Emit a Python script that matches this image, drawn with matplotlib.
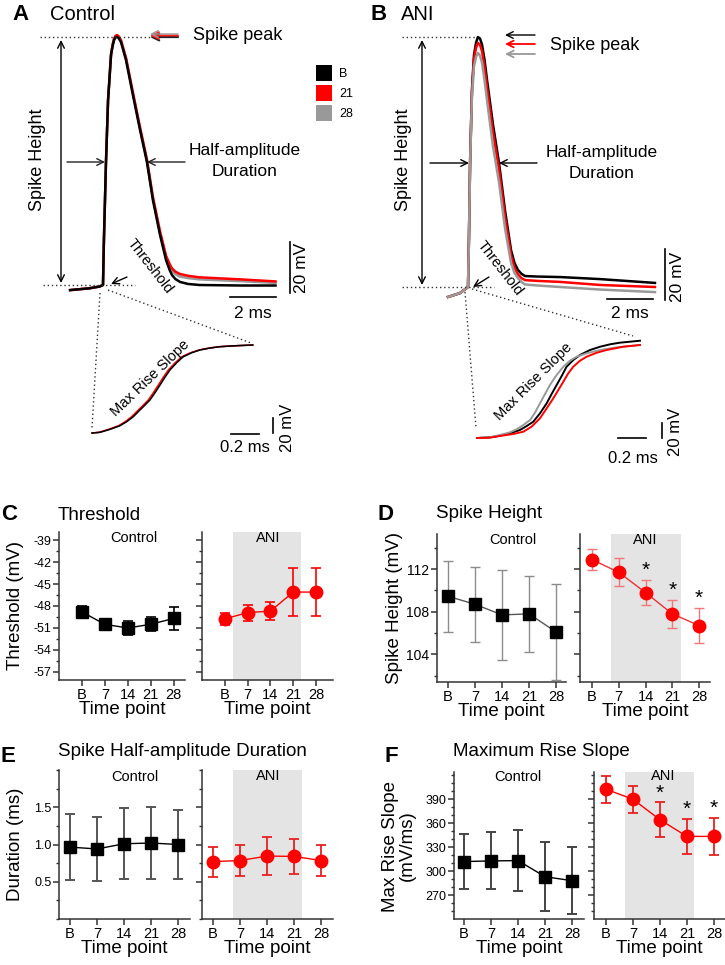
import matplotlib
matplotlib.use('Agg')
import matplotlib.pyplot as plt
from matplotlib.patches import Rectangle
from matplotlib.ticker import MultipleLocator, FixedLocator, FormatStrFormatter

plt.rcParams['font.family'] = ['Liberation Sans', 'DejaVu Sans']
plt.rcParams['axes.unicode_minus'] = False

# ------------------------------------------------------------------ data
time_points = ['B', '7', '14', '21', '28']
trace_labels = ['B', '21', '28']
trace_colors = ['#000000', '#ff0000', '#999999']

# C: threshold (mV)
thr_ctrl = [-48.8, -50.5, -51.0, -50.5, -49.7]
thr_ctrl_err = [0.8, 0.75, 0.9, 0.95, 1.6]
thr_ani = [-49.75, -48.9, -48.7, -46.1, -46.1]
thr_ani_err = [0.85, 1.1, 1.25, 3.25, 3.25]

# D: spike height (mV)
hgt_ctrl = [109.45, 108.7, 107.7, 107.8, 106.1]
hgt_ctrl_err = [3.35, 3.5, 4.2, 3.6, 4.5]
hgt_ani = [112.9, 111.7, 109.8, 107.8, 106.7]
hgt_ani_err = [1.0, 1.3, 1.15, 1.3, 1.65]
hgt_stars = [False, False, True, True, True]

# E: half-amplitude duration (ms)
dur_ctrl = [0.965, 0.94, 1.01, 1.02, 1.0]
dur_ctrl_err = [0.445, 0.435, 0.475, 0.48, 0.465]
dur_ani = [0.77, 0.785, 0.845, 0.84, 0.785]
dur_ani_err = [0.2, 0.21, 0.26, 0.24, 0.21]

# F: max rise slope (mV/ms)
mrs_ctrl = [312.2, 313.0, 313.4, 293.3, 288.3]
mrs_ctrl_err = [34.0, 35.5, 38.5, 43.0, 41.5]
mrs_ani = [402.6, 390.0, 364.5, 343.6, 343.6]
mrs_ani_err = [17.0, 17.0, 21.5, 21.5, 23.0]
mrs_stars = [False, False, True, True, True]

# A / B: example spikes (ms from threshold, mV above threshold)
ctrl_t = [-1.43, -0.6, -0.15, 0, 0.04, 0.13, 0.22, 0.35, 0.42, 0.48, 0.55, 0.61, 0.68,
          0.78, 1.0, 1.3, 1.61, 1.91, 2.17, 2.48, 2.74, 2.9, 3.0, 3.15, 3.35, 3.7,
          4.2, 6.0, 7.5]
ctrl_v_B = [-2.0, -1.3, -0.6, 0, 17.6, 48.2, 72.5, 90.2, 93.8, 96.0, 97.1, 97.3, 96.8,
            95.3, 88.2, 74.5, 60.8, 48.2, 33.3, 19.6, 9.8, 5.8, 3.9, 2.3, 1.2, 0.4,
            0.0, -0.2, -0.2]
ctrl_v_21 = [-2.0, -1.3, -0.6, 0, 17.6, 48.2, 72.5, 90.6, 94.3, 96.6, 97.7, 98.0, 97.5,
             96.0, 89.0, 75.5, 61.8, 49.2, 34.5, 21.0, 11.5, 8.2, 6.5, 5.2, 4.3, 3.6,
             3.0, 2.2, 1.4]
ctrl_v_28 = [-2.0, -1.3, -0.6, 0, 17.6, 48.2, 72.5, 90.6, 94.3, 96.6, 97.7, 98.0, 97.5,
             96.0, 89.0, 75.3, 61.5, 48.9, 34.0, 20.5, 10.8, 7.2, 5.5, 4.2, 3.3, 2.7,
             2.2, 1.5, 0.8]

ani_t = [-0.87, -0.35, 0, 0.04, 0.09, 0.17, 0.26, 0.35, 0.43, 0.52, 0.61, 0.72, 0.83,
         1.09, 1.35, 1.61, 1.87, 2.02, 2.17, 2.32, 2.48, 3.0, 4.0, 5.74, 8.13]
ani_v_B = [-3.9, -2.4, 0, 18.4, 48.6, 77, 91, 95.8, 98, 97.5, 95, 89, 81,
           63.5, 48.6, 30, 14.5, 9.5, 6.7, 5.2, 4.3, 4.1, 3.9, 3.1, 1.6]
ani_v_21 = [-3.9, -2.4, 0, 18.4, 48.6, 76, 89.5, 93.8, 95.7, 95.0, 92.5, 86, 78,
            60.5, 46, 27.5, 12.5, 7.6, 5.0, 3.5, 2.7, 2.4, 2.0, 0.8, 0.0]
ani_v_28 = [-3.9, -2.4, 0, 18.0, 47.5, 74, 86.5, 90.2, 91.8, 90.8, 88, 81, 73,
            55, 41, 23, 9.5, 5.5, 3.5, 2.0, 1.0, 0.6, 0.0, -1.0, -2.0]

# insets: rising phase (ms, mV)
ins_ctrl_v = [0, 0.9, 4.9, 9.7, 15.1, 21.7, 30.7, 37.3, 44, 53.7, 64, 74.3, 84, 93.7,
              101.7, 107, 110.7, 113.3, 115.1, 116.4, 117.3]
ins_ctrl_t_B = [0, 0.057, 0.129, 0.2, 0.248, 0.295, 0.343, 0.379, 0.414, 0.45, 0.486,
                0.521, 0.557, 0.605, 0.652, 0.712, 0.771, 0.843, 0.914, 1.033, 1.148]
ins_ctrl_t_21 = [0, 0.05, 0.12, 0.19, 0.237, 0.283, 0.331, 0.367, 0.402, 0.438, 0.474,
                 0.509, 0.545, 0.594, 0.642, 0.704, 0.765, 0.839, 0.911, 1.031, 1.148]
ins_ctrl_t_28 = [0, 0.054, 0.125, 0.195, 0.243, 0.289, 0.337, 0.373, 0.408, 0.444, 0.48,
                 0.515, 0.551, 0.6, 0.647, 0.708, 0.768, 0.841, 0.912, 1.032, 1.148]

ins_ani_t_B = [0, 0.093, 0.164, 0.236, 0.307, 0.355, 0.402, 0.45, 0.498, 0.533, 0.569,
               0.605, 0.64, 0.688, 0.736, 0.807, 0.879, 0.95, 1.021, 1.093, 1.164]
ins_ani_v_B = [0, 0.9, 3.1, 6.3, 10.7, 16, 21.7, 32.9, 46.3, 58.7, 70.7, 82.7, 95.1,
               104, 110.7, 117.3, 121.7, 124.9, 127.1, 128.4, 129.7]
ins_ani_t_21 = [0, 0.093, 0.164, 0.259, 0.331, 0.39, 0.45, 0.498, 0.545, 0.581, 0.617,
                0.652, 0.688, 0.736, 0.783, 0.855, 0.926, 1.045, 1.164]
ins_ani_v_21 = [0, 0.4, 2.7, 5.3, 8.4, 15.1, 26.3, 39.6, 52.9, 64, 75.1, 86.3, 95.1,
                103.1, 108.4, 113.7, 117.3, 121.7, 124]
ins_ani_t_28 = [0, 0.093, 0.164, 0.236, 0.283, 0.331, 0.379, 0.414, 0.45, 0.486, 0.521,
                0.569, 0.617, 0.664, 0.712, 0.783, 0.879, 0.998, 1.164]
ins_ani_v_28 = [0, 0.9, 4, 7.6, 11.6, 17.3, 24, 33.7, 46.3, 58.7, 70.7, 84, 95.1,
                103.1, 108.4, 112.9, 117.3, 120.9, 124]

# ------------------------------------------------------------------ figure
W, H = 725, 965
fig = plt.figure(figsize=(W / 100, H / 100), dpi=100)
AX = '#333333'


def px_axes(l, t, r, b):
    return fig.add_axes([l / W, 1 - b / H, (r - l) / W, (b - t) / H])


def ftext(x, y, s, **kw):
    kw.setdefault('ha', 'left')
    kw.setdefault('va', 'center')
    return fig.text(x / W, 1 - y / H, s, **kw)


def trace_axes(l, t, r, b, x0, y0, sx, sy):
    """axes whose data origin sits at pixel (x0, y0) with sx px/ms, sy px/mV"""
    ax = px_axes(l, t, r, b)
    ax.set_xlim((l - x0) / sx, (r - x0) / sx)
    ax.set_ylim((y0 - b) / sy, (y0 - t) / sy)
    ax.axis('off')
    return ax


# ---- A: control trace
axA = trace_axes(60, 20, 310, 300, 103, 285, 23.0, 2.55)
for v, c in [(ctrl_v_28, trace_colors[2]), (ctrl_v_21, trace_colors[1]), (ctrl_v_B, trace_colors[0])]:
    axA.plot(ctrl_t, v, color=c, lw=1.8, solid_joinstyle='round')
axA.plot([5.52, 7.52], [-4.7, -4.7], color='k', lw=1.2)
axA.plot([8.13, 8.13], [-3.1, 16.9], color='k', lw=1.2)

# ---- B: ANI trace
axB = trace_axes(440, 20, 690, 305, 468, 287, 23.0, 2.55)
for v, c in [(ani_v_B, trace_colors[0]), (ani_v_21, trace_colors[1]), (ani_v_28, trace_colors[2])]:
    axB.plot(ani_t, v, color=c, lw=1.8, solid_joinstyle='round')
axB.plot([6.04, 8.04], [-4.7, -4.7], color='k', lw=1.2)
axB.plot([8.56, 8.56], [-5.1, 14.9], color='k', lw=1.2)

# ---- insets
axIA = trace_axes(85, 335, 285, 445, 92, 433, 140.0, 0.75)
for t, c in [(ins_ctrl_t_28, trace_colors[2]), (ins_ctrl_t_21, trace_colors[1]), (ins_ctrl_t_B, trace_colors[0])]:
    axIA.plot(t, ins_ctrl_v, color=c, lw=1.1, solid_joinstyle='round')
axIA.plot([0.993, 1.193], [-1.3, -1.3], color='k', lw=1.2)
axIA.plot([1.293, 1.293], [0, 20], color='k', lw=1.2)

axIB = trace_axes(470, 330, 680, 450, 477, 438, 140.0, 0.75)
for t, v, c in [(ins_ani_t_B, ins_ani_v_B, trace_colors[0]), (ins_ani_t_28, ins_ani_v_28, trace_colors[2]),
                (ins_ani_t_21, ins_ani_v_21, trace_colors[1])]:
    axIB.plot(t, v, color=c, lw=1.4, solid_joinstyle='round')
axIB.plot([1.007, 1.207], [0, 0], color='k', lw=1.2)
axIB.plot([1.321, 1.321], [0, 20], color='k', lw=1.2)


# ------------------------------------------------------------------ summary panels
def setup(ax, xlim, ylim, major, minor, show_ylabels, fmt=None, ylsize=9):
    ax.set_xlim(*xlim)
    ax.set_ylim(*ylim)
    for s in ['top', 'right']:
        ax.spines[s].set_visible(False)
    for s in ['left', 'bottom']:
        ax.spines[s].set_color(AX)
        ax.spines[s].set_linewidth(1.1)
    ax.set_xticks(range(len(time_points)))
    ax.set_xticklabels(time_points)
    ax.yaxis.set_major_locator(FixedLocator(major))
    ax.yaxis.set_minor_locator(MultipleLocator(minor))
    if fmt:
        ax.yaxis.set_major_formatter(FormatStrFormatter(fmt))
    ax.tick_params(axis='both', which='major', direction='out', length=4, width=1.1, color=AX)
    ax.tick_params(axis='y', which='minor', direction='out', length=2.5, width=1.0, color=AX)
    ax.tick_params(axis='x', labelsize=10.5, pad=2)
    ax.tick_params(axis='y', labelsize=ylsize, pad=1.5)
    if not show_ylabels:
        ax.tick_params(axis='y', labelleft=False)
    ax.patch.set_alpha(0)


def draw_ctrl(ax, vals, err, ecolor, lcolor, elw=1.2):
    ax.errorbar(range(len(vals)), vals, yerr=err, color=lcolor, lw=1.0, marker='s', ms=8.5,
                mfc='k', mec='k', ecolor=ecolor, elinewidth=elw, capsize=3.5, capthick=elw, zorder=3)


def draw_ani(ax, vals, err, ecolor, lcolor, elw=1.2):
    ax.errorbar(range(len(vals)), vals, yerr=err, color=lcolor, lw=1.0, marker='o', ms=9,
                mfc='#ff0000', mec='#ff0000', ecolor=ecolor, elinewidth=elw, capsize=3.5,
                capthick=elw, zorder=3)


def stars(ax, vals, err, flags):
    for i, (v, e, f) in enumerate(zip(vals, err, flags)):
        if f:
            ax.annotate('*', (i, v + e), xytext=(0, 0), textcoords='offset points',
                        ha='center', va='bottom', fontsize=15)


SHADE = '#e4e4e4'

# C
axCc = px_axes(59, 532, 185, 680)
axCa = px_axes(202, 532, 333, 680)
setup(axCc, (-1.0, 4.5), (-58.1, -37.9), [-57, -54, -51, -48, -45, -42, -39], 1.5, True)
setup(axCa, (-1.01, 4.75), (-58.1, -37.9), [-57, -54, -51, -48, -45, -42, -39], 1.5, False)
axCa.axvspan(0.35, 3.35, color=SHADE, lw=0, zorder=0)
draw_ctrl(axCc, thr_ctrl, thr_ctrl_err, 'k', 'k')
draw_ani(axCa, thr_ani, thr_ani_err, '#ff0000', '#ff0000')

# D
axDc = px_axes(437, 534, 566, 682)
axDa = px_axes(580, 534, 710, 682)
setup(axDc, (-0.41, 4.37), (101.4, 115.3), [104, 108, 112], 2, True, ylsize=10)
setup(axDa, (-0.45, 4.41), (101.4, 115.3), [104, 108, 112], 2, False, ylsize=10)
axDa.axvspan(0.71, 3.33, color=SHADE, lw=0, zorder=0)
draw_ctrl(axDc, hgt_ctrl, hgt_ctrl_err, '#8c8c8c', '#555555', elw=1.0)
draw_ani(axDa, hgt_ani, hgt_ani_err, '#f07878', '#ee3030', elw=1.0)
stars(axDa, hgt_ani, hgt_ani_err, hgt_stars)

# E
axEc = px_axes(59, 770, 190, 919)
axEa = px_axes(202, 770, 333, 919)
setup(axEc, (-0.41, 4.44), (0.0, 2.0), [0.5, 1.0, 1.5], 0.25, True, fmt='%.1f')
setup(axEa, (-0.41, 4.44), (0.0, 2.0), [0.5, 1.0, 1.5], 0.25, False, fmt='%.1f')
axEa.axvspan(0.74, 3.3, color=SHADE, lw=0, zorder=0)
draw_ctrl(axEc, dur_ctrl, dur_ctrl_err, '#555555', 'k', elw=1.4)
draw_ani(axEa, dur_ani, dur_ani_err, '#e82020', '#ff0000', elw=1.3)

# F
axFc = px_axes(454, 772, 584, 919)
axFa = px_axes(594, 772, 725, 919)
setup(axFc, (-0.37, 4.44), (240.5, 424), [270, 300, 330, 360, 390], 10, True)
setup(axFa, (-0.44, 4.41), (240.5, 424), [270, 300, 330, 360, 390], 10, False)
axFa.axvspan(0.7, 3.26, color=SHADE, lw=0, zorder=0)
draw_ctrl(axFc, mrs_ctrl, mrs_ctrl_err, '#444444', 'k', elw=1.4)
draw_ani(axFa, mrs_ani, mrs_ani_err, '#e82020', '#ff0000', elw=1.3)
stars(axFa, mrs_ani, mrs_ani_err, mrs_stars)

for ax in [axCc, axCa, axDc, axDa, axEc, axEa, axFc, axFa]:
    ax.set_xlabel('Time point', fontsize=13.5, labelpad=-1)

ftext(134, 538, 'Control', ha='center', fontsize=10.5)
ftext(268, 538, 'ANI', ha='center', fontsize=10.5)
ftext(513, 540, 'Control', ha='center', fontsize=10.5)
ftext(645, 540, 'ANI', ha='center', fontsize=10.5)
ftext(135, 777, 'Control', ha='center', fontsize=10.5)
ftext(268, 776, 'ANI', ha='center', fontsize=10.5)
ftext(518, 777, 'Control', ha='center', fontsize=10.5)
ftext(663, 776, 'ANI', ha='center', fontsize=10.5)

ftext(16, 606, 'Threshold (mV)', ha='center', rotation=90, fontsize=13.5)
ftext(394, 608, 'Spike Height (mV)', ha='center', rotation=90, fontsize=13.5)
ftext(16, 844, 'Duration (ms)', ha='center', rotation=90, fontsize=13.5)
ftext(399, 846, 'Max Rise Slope\n(mV/ms)', ha='center', rotation=90, fontsize=13.5,
      linespacing=0.95)

ftext(58, 516, 'Threshold', fontsize=13.5)
ftext(436, 514, 'Spike Height', fontsize=13.5)
ftext(58, 752, 'Spike Half-amplitude Duration', fontsize=13.5)
ftext(453, 752, 'Maximum Rise Slope', fontsize=13.5)
for x, y, s in [(1, 514, 'C'), (378, 514, 'D'), (1, 757, 'E'), (384, 757, 'F'),
                (12, 15, 'A'), (371, 15, 'B')]:
    ftext(x, y, s, fontsize=16, fontweight='bold')

ftext(50, 15, 'Control', fontsize=14.5)
ftext(401, 15, 'ANI', fontsize=14.5)

# ------------------------------------------------------------------ annotation overlay (pixel coords)
ov = fig.add_axes([0, 0, 1, 1])
ov.set_xlim(0, W)
ov.set_ylim(H, 0)
ov.axis('off')
ov.patch.set_alpha(0)

dot = dict(color='#333333', lw=1.0, ls=(0, (1, 2)))


def arrow(x1, y1, x2, y2, color='k', style='->', lw=1.0, ms=12):
    ov.annotate('', xy=(x2, y2), xytext=(x1, y1),
                arrowprops=dict(arrowstyle=style, color=color, lw=lw, mutation_scale=ms,
                                shrinkA=0, shrinkB=0))


# A annotations
ov.plot([40, 150], [37, 37], **dot)
ov.plot([43, 135], [285, 285], **dot)
arrow(61, 40, 61, 283, style='<->')
ftext(38, 160, 'Spike Height', ha='center', rotation=90, fontsize=13)
arrow(178, 37, 150, 37, color='#222222', lw=1.6)
arrow(178, 35.5, 150, 35.5, color='#ff2020', lw=1.4)
arrow(178, 34, 150, 34, color='#999999', lw=1.0)
ftext(193, 35, 'Spike peak', fontsize=13)
arrow(67, 162, 105, 162, color='#222222')
arrow(185, 162, 147, 162, color='#222222')
ftext(245, 150, 'Half-amplitude', ha='center', fontsize=12.5)
ftext(245, 172, 'Duration', ha='center', fontsize=12.5)
for i, (lab, c) in enumerate(zip(trace_labels, trace_colors)):
    ov.add_patch(Rectangle((316, 65 + 20 * i), 16, 16, color=c, lw=0))
    ftext(339, 74 + 20 * i, lab, fontsize=9)
ftext(150, 266, 'Threshold', ha='center', rotation=-52, rotation_mode='anchor', fontsize=10.5)
arrow(127, 277, 111, 284)
ftext(253, 313, '2 ms', ha='center', fontsize=12.5)
ftext(302, 268, '20 mV', ha='center', rotation=90, fontsize=12.5)
ov.plot([100, 92], [293, 428], **dot)
ov.plot([108, 251], [290, 343], **dot)
ftext(150, 378, 'Max Rise Slope', ha='center', rotation=44, rotation_mode='anchor', fontsize=10.5)
ftext(245, 448, '0.2 ms', ha='center', fontsize=12)
ftext(288, 428, '20 mV', ha='center', rotation=90, fontsize=12)

# B annotations
ov.plot([402, 477], [37, 37], **dot)
ov.plot([402, 494], [287, 287], **dot)
arrow(422, 40, 422, 285, style='<->')
ftext(403, 160, 'Spike Height', ha='center', rotation=90, fontsize=13)
arrow(535, 35, 505, 35, color='#000000')
arrow(535, 44, 505, 44, color='#ff0000', lw=1.3)
arrow(535, 54, 505, 54, color='#999999', lw=1.3)
ftext(550, 45, 'Spike peak', fontsize=13)
arrow(430, 163, 469, 163, color='#000000')
arrow(537, 163, 499, 163, color='#000000')
ftext(602, 152, 'Half-amplitude', ha='center', fontsize=12.5)
ftext(602, 173, 'Duration', ha='center', fontsize=12.5)
ftext(500, 268, 'Threshold', ha='center', rotation=-52, rotation_mode='anchor', fontsize=10.5)
arrow(489, 277, 473, 287)
ftext(630, 313, '2 ms', ha='center', fontsize=12.5)
ftext(678, 277, '20 mV', ha='center', rotation=90, fontsize=12.5)
ov.plot([465, 476], [292, 428], **dot)
ov.plot([472, 633], [289, 336], **dot)
ftext(533, 382, 'Max Rise Slope', ha='center', rotation=45, rotation_mode='anchor', fontsize=10.5)
ftext(633, 458, '0.2 ms', ha='center', fontsize=12)
ftext(675, 432, '20 mV', ha='center', rotation=90, fontsize=12)

fig.savefig('out.png', dpi=100)
